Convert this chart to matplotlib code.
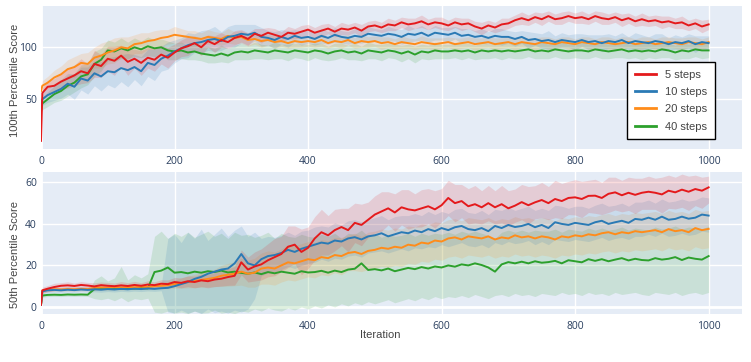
from __future__ import annotations

from typing import Any

import matplotlib

matplotlib.use("Agg")
import matplotlib.pyplot as plt
from matplotlib.lines import Line2D


FIG_SIZE = (7.51, 3.62)
BG = "#E5ECF6"
TICK_COLOR = "#2A3F5F"
TITLE_COLOR = "#444444"

COLORS = {
    "5": "#E41A1C",
    "10": "#2A7AB5",
    "20": "#FF8C1A",
    "40": "#2CA02C",
}
LABELS = ["5 steps", "10 steps", "20 steps", "40 steps"]
X_TICKS = [0, 200, 400, 600, 800, 1000]

# iteration grid: 0, 2, then every 10 iterations
ITERATIONS = [0, 2] + list(range(10, 1001, 10))

# ---- 100th percentile score (top) ----
TOP_5_MEAN = [
    10, 56,
    62, 63, 67, 70, 73, 77, 75, 84, 82, 89,
    87, 92, 86, 89, 85, 90, 88, 93, 90, 95,
    99, 101, 104, 100, 106, 103, 107, 105, 109, 111,
    108, 113, 111, 114, 112, 110, 114, 113, 115, 117,
    114, 116, 118, 115, 118, 117, 119, 116, 120, 121,
    119, 122, 121, 124, 122, 123, 125, 122, 124, 123,
    121, 124, 122, 123, 120, 118, 121, 119, 122, 123,
    126, 128, 126, 129, 127, 130, 127, 128, 130, 128,
    129, 127, 130, 128, 127, 129, 126, 128, 125, 127,
    125, 126, 124, 125, 123, 124, 121, 123, 120, 122,
]
TOP_5_SPREAD = [
    2, 5,
    6, 7, 8, 9, 10, 12, 9, 13, 11, 12,
    14, 10, 13, 9, 12, 10, 11, 9, 10, 8,
    8, 9, 7, 8, 6, 8, 7, 6, 7, 6,
    6, 5, 7, 5, 6, 5, 6, 5, 6, 5,
    5, 6, 5, 5, 6, 5, 5, 6, 5, 5,
    5, 6, 5, 5, 6, 5, 6, 5, 5, 6,
    5, 5, 6, 5, 5, 6, 5, 5, 6, 5,
    5, 6, 5, 5, 6, 5, 5, 6, 5, 5,
    6, 5, 5, 6, 5, 5, 6, 5, 5, 6,
    5, 5, 6, 5, 5, 6, 5, 5, 6, 5,
]
TOP_10_MEAN = [
    44, 50,
    54, 57, 60, 65, 62, 70, 68, 75, 72, 77,
    76, 80, 78, 81, 77, 85, 83, 89, 92, 96,
    99, 102, 104, 105, 107, 108, 106, 110, 111, 113,
    112, 114, 110, 109, 107, 110, 108, 111, 109, 110,
    108, 111, 109, 112, 110, 109, 111, 110, 113, 112,
    111, 113, 112, 110, 113, 112, 114, 111, 114, 113,
    112, 114, 111, 112, 110, 111, 109, 111, 110, 110,
    108, 110, 107, 108, 106, 107, 105, 107, 106, 105,
    107, 105, 106, 104, 106, 105, 107, 104, 106, 105,
    104, 106, 105, 103, 105, 104, 106, 103, 105, 104,
]
TOP_10_SPREAD = [
    3, 6,
    7, 8, 9, 10, 12, 11, 13, 12, 14, 13,
    15, 13, 16, 12, 14, 13, 15, 12, 13, 11,
    10, 12, 9, 11, 10, 12, 9, 10, 11, 9,
    10, 8, 9, 7, 8, 7, 8, 6, 7, 6,
    6, 7, 6, 7, 6, 6, 7, 6, 7, 6,
    6, 7, 6, 7, 8, 6, 7, 6, 7, 6,
    7, 6, 7, 6, 6, 7, 6, 7, 8, 6,
    7, 6, 8, 6, 7, 9, 6, 7, 6, 8,
    6, 7, 6, 8, 7, 6, 7, 6, 8, 7,
    6, 7, 8, 6, 7, 6, 7, 8, 6, 7,
]
TOP_20_MEAN = [
    58, 63,
    66, 71, 74, 79, 81, 85, 84, 90, 92, 95,
    97, 100, 99, 103, 104, 106, 107, 109, 110, 112,
    111, 110, 109, 108, 110, 109, 108, 111, 109, 110,
    107, 108, 106, 107, 105, 106, 104, 106, 105, 106,
    105, 107, 104, 106, 105, 107, 104, 106, 105, 106,
    104, 105, 103, 105, 104, 103, 105, 104, 103, 104,
    105, 103, 104, 105, 103, 104, 105, 103, 104, 105,
    103, 105, 104, 103, 105, 104, 103, 105, 104, 103,
    105, 104, 103, 105, 104, 103, 104, 105, 103, 104,
    105, 103, 104, 105, 104, 103, 105, 104, 103, 105,
]
TOP_20_SPREAD = [
    3, 5,
    6, 7, 8, 9, 10, 9, 11, 10, 12, 11,
    12, 10, 11, 9, 10, 8, 9, 8, 7, 8,
    7, 6, 7, 6, 7, 6, 6, 7, 6, 6,
    6, 5, 6, 5, 6, 5, 5, 6, 5, 5,
    5, 6, 5, 5, 6, 5, 5, 6, 5, 5,
    6, 5, 5, 6, 5, 5, 6, 5, 6, 5,
    5, 6, 5, 5, 6, 5, 5, 6, 5, 5,
    6, 5, 5, 6, 5, 6, 5, 5, 6, 5,
    5, 6, 5, 5, 6, 5, 6, 5, 5, 6,
    5, 5, 6, 5, 5, 6, 5, 6, 5, 5,
]
TOP_40_MEAN = [
    38, 46,
    50, 55, 58, 63, 66, 72, 74, 84, 88, 97,
    96, 99, 97, 100, 98, 101, 99, 100, 97, 96,
    97, 95, 96, 94, 93, 92, 94, 92, 95, 96,
    95, 97, 96, 95, 97, 96, 95, 97, 96, 95,
    97, 96, 94, 96, 97, 95, 96, 94, 97, 96,
    95, 97, 96, 94, 96, 93, 96, 95, 97, 96,
    96, 97, 96, 97, 95, 97, 96, 97, 96, 97,
    96, 97, 98, 96, 97, 96, 98, 97, 96, 97,
    97, 96, 98, 97, 96, 97, 98, 96, 97, 96,
    97, 96, 98, 97, 95, 97, 96, 98, 97, 97,
]
TOP_40_SPREAD = [
    3, 6,
    7, 8, 9, 10, 9, 11, 10, 12, 11, 10,
    9, 10, 8, 9, 8, 9, 8, 8, 9, 8,
    8, 7, 8, 7, 8, 7, 8, 7, 7, 8,
    7, 8, 7, 7, 8, 7, 8, 7, 7, 8,
    7, 8, 7, 8, 7, 7, 8, 7, 8, 7,
    8, 7, 7, 8, 7, 8, 7, 7, 8, 7,
    7, 7, 8, 7, 7, 8, 7, 7, 8, 7,
    7, 8, 7, 7, 8, 7, 7, 8, 7, 7,
    8, 7, 7, 8, 7, 7, 8, 7, 7, 8,
    7, 7, 8, 7, 7, 8, 7, 7, 8, 7,
]

# ---- 50th percentile score (bottom) ----
BOTTOM_5_MEAN = [
    1, 8,
    8.8, 9.6, 10.2, 10.4, 10.1, 10.6, 10.3, 9.9, 10.5, 10.2,
    10.0, 10.4, 10.1, 10.6, 10.2, 10.8, 10.5, 11.2, 11.0, 12.0,
    11.6, 12.4, 12.0, 12.8, 12.4, 13.2, 13.6, 14.4, 15.0, 21.5,
    18.0, 19.5, 20.5, 22.5, 24.0, 25.5, 29.0, 30.0, 26.5, 28.5,
    33.0, 36.0, 34.5, 37.0, 38.5, 37.0, 40.5, 39.5, 42.0, 44.5,
    46.0, 47.5, 45.5, 48.0, 47.0, 46.5, 47.5, 48.5, 47.0, 49.0,
    52.5, 50.0, 51.0, 48.5, 49.5, 48.0, 50.0, 48.0, 49.5, 47.5,
    48.8, 50.5, 49.0, 50.4, 51.5, 50.0, 52.0, 51.0, 52.5, 52.8,
    52.0, 53.5, 53.6, 52.5, 54.5, 55.2, 53.8, 55.0, 54.0, 55.0,
    55.5, 55.0, 54.2, 56.0, 55.2, 56.5, 55.5, 56.8, 56.0, 57.6,
]
BOTTOM_5_LOW = [
    0.5, 6.5,
    7.3, 7.8, 8.7, 8.7, 8.7, 9.0, 8.8, 8.2, 9.0, 8.6,
    8.5, 8.6, 8.5, 8.9, 8.7, 9.0, 8.9, 9.3, 9.0, 9.8,
    9.2, 9.8, 9.2, 9.8, 9.2, 9.8, 10.0, 10.4, 10.5, 15.5,
    12.0, 12.5, 13.0, 14.5, 15.0, 17.0, 19.0, 21.0, 15.5, 18.5,
    22.5, 25.0, 25.0, 27.0, 29.5, 26.5, 31.0, 29.5, 33.5, 35.5,
    36.5, 39.5, 36.5, 39.5, 37.5, 38.5, 38.5, 40.0, 38.0, 41.0,
    44.0, 41.0, 43.0, 40.0, 40.5, 40.0, 41.5, 40.0, 40.5, 39.0,
    40.8, 42.0, 40.0, 42.4, 43.0, 42.0, 43.0, 42.5, 44.5, 44.3,
    43.0, 45.5, 45.1, 44.5, 45.5, 46.7, 45.8, 46.5, 45.0, 47.0,
    47.0, 47.0, 45.2, 47.5, 47.2, 48.0, 46.5, 48.8, 47.5, 50.1,
]
BOTTOM_5_HIGH = [
    1.5, 9.5,
    10.3, 11.4, 11.7, 12.1, 11.5, 12.2, 11.8, 11.6, 12.0, 11.8,
    11.5, 12.2, 11.7, 12.3, 11.7, 12.6, 12.1, 13.1, 13.0, 14.2,
    14.0, 15.0, 14.8, 15.8, 15.6, 16.6, 17.2, 18.4, 19.5, 27.5,
    24.0, 26.5, 28.0, 30.5, 33.0, 34.0, 39.0, 39.0, 37.5, 38.5,
    43.5, 47.0, 44.0, 47.0, 47.5, 47.5, 50.0, 49.5, 50.5, 53.5,
    55.5, 55.5, 54.5, 56.5, 56.5, 54.5, 56.5, 57.0, 56.0, 57.0,
    61.0, 59.0, 59.0, 57.0, 58.5, 56.0, 58.5, 56.0, 58.5, 56.0,
    56.8, 59.0, 58.0, 58.4, 60.0, 58.0, 61.0, 59.5, 60.5, 61.3,
    60.5, 61.0, 61.5, 60.0, 62.5, 62.5, 61.0, 62.5, 62.0, 62.0,
    63.0, 62.0, 62.5, 63.5, 62.5, 64.0, 63.0, 63.5, 62.5, 63.0,
]
BOTTOM_10_MEAN = [
    1, 7.5,
    8.0, 8.2, 8.0, 8.3, 8.1, 8.4, 8.2, 8.5, 8.3, 8.6,
    8.4, 8.7, 8.5, 8.8, 8.6, 8.9, 8.7, 9.0, 9.2, 10.0,
    11.0, 12.0, 13.5, 14.5, 16.0, 17.0, 18.0, 18.5, 21.0, 25.5,
    21.0, 20.0, 23.0, 24.5, 25.0, 26.0, 27.5, 26.5, 28.0, 29.0,
    30.0, 31.0, 30.5, 32.0, 31.5, 33.0, 33.6, 32.5, 34.0, 34.5,
    35.5, 34.0, 35.0, 36.0, 35.5, 36.8, 36.0, 37.5, 36.5, 38.0,
    37.0, 38.4, 39.0, 37.5, 37.0, 38.0, 36.5, 39.0, 38.0, 39.5,
    38.5, 39.0, 40.0, 38.4, 39.5, 38.0, 40.8, 40.0, 39.5, 40.5,
    40.0, 39.5, 40.8, 41.5, 40.0, 40.8, 41.5, 40.5, 42.4, 42.0,
    43.0, 42.0, 43.5, 42.0, 42.4, 43.5, 42.5, 43.0, 44.5, 44.0,
]
BOTTOM_10_LOW = [
    0.5, 6.3,
    6.8, 7.0, 6.8, 7.1, 6.9, 7.2, 7.0, 7.3, 7.1, 7.4,
    7.2, 7.5, 7.3, 7.6, 7.4, 7.7, 7.5, 7.8, -2.5, -3.0,
    -1.5, -3.0, -2.0, -3.2, -1.0, -2.8, -2.0, -3.0, -1.5, -2.5,
    -1.0, 4.0, 15.0, 16.5, 17.0, 18.0, 19.5, 18.5, 20.0, 21.0,
    21.5, 23.0, 22.0, 23.5, 23.0, 24.5, 25.0, 24.0, 26.0, 26.5,
    27.0, 26.0, 27.0, 28.0, 27.0, 28.5, 28.0, 29.0, 28.5, 30.0,
    29.0, 30.0, 31.0, 29.5, 29.0, 30.0, 28.5, 31.0, 30.0, 31.5,
    30.5, 31.0, 32.0, 30.0, 31.5, 30.0, 32.5, 32.0, 31.5, 32.5,
    32.0, 31.5, 32.5, 33.5, 32.0, 33.0, 33.5, 32.5, 34.0, 34.0,
    35.0, 34.0, 35.5, 34.0, 34.5, 35.5, 34.5, 35.0, 36.5, 36.0,
]
BOTTOM_10_HIGH = [
    1.5, 8.7,
    9.3, 9.5, 9.3, 9.6, 9.4, 9.7, 9.5, 9.8, 9.6, 9.9,
    9.7, 10.0, 9.8, 10.1, 9.9, 10.2, 10.0, 10.3, 33.0, 35.0,
    31.0, 36.0, 33.0, 37.5, 32.0, 35.0, 38.0, 34.0, 37.0, 39.0,
    34.0, 36.0, 33.0, 34.0, 33.5, 34.5, 36.0, 34.5, 36.5, 37.0,
    38.5, 39.0, 38.5, 40.5, 39.5, 41.5, 42.0, 41.0, 42.0, 43.0,
    44.0, 42.0, 43.5, 44.0, 44.0, 45.0, 44.0, 46.0, 44.5, 46.0,
    45.0, 47.0, 47.5, 45.5, 45.0, 46.5, 44.5, 47.0, 46.5, 48.0,
    46.5, 47.5, 48.5, 46.5, 47.5, 46.5, 49.0, 48.5, 47.5, 48.5,
    48.5, 47.5, 49.0, 50.0, 48.5, 49.0, 50.0, 48.5, 50.5, 50.5,
    51.5, 50.0, 52.0, 50.5, 51.0, 52.0, 51.0, 51.5, 53.0, 52.5,
]
BOTTOM_20_MEAN = [
    1, 7.8,
    8.3, 8.5, 8.4, 8.6, 8.5, 8.7, 8.6, 9.2, 9.4, 9.3,
    9.5, 9.4, 9.6, 9.5, 9.8, 9.6, 10.0, 10.2, 10.5, 11.0,
    11.5, 12.0, 12.5, 13.0, 13.5, 14.0, 15.0, 15.5, 16.0, 17.0,
    16.0, 16.5, 18.5, 19.0, 18.5, 20.0, 21.5, 21.0, 22.0, 23.0,
    22.5, 24.0, 23.5, 25.0, 24.5, 26.0, 26.5, 25.5, 27.0, 27.5,
    28.5, 28.0, 29.0, 28.5, 30.0, 29.5, 31.0, 30.5, 32.0, 31.5,
    33.0, 33.5, 32.5, 34.0, 33.5, 33.0, 34.0, 32.5, 33.5, 33.0,
    34.5, 33.5, 34.0, 33.0, 34.0, 33.5, 32.5, 34.0, 33.5, 34.5,
    34.0, 35.0, 34.5, 35.5, 36.0, 35.0, 36.0, 35.5, 36.5, 36.0,
    36.5, 37.0, 36.0, 37.5, 36.5, 37.0, 36.0, 38.0, 37.0, 37.6,
]
BOTTOM_20_LOW = [
    0.5, 6.8,
    7.3, 7.5, 7.4, 7.6, 7.5, 7.7, 7.6, 8.0, 8.2, 8.1,
    8.3, 8.2, 8.4, 8.3, 8.5, 8.3, 8.6, 8.7, 8.8, 9.0,
    9.0, 9.2, 9.3, 9.5, 9.6, 9.8, 10.0, 10.0, 10.2, 10.5,
    9.5, 9.5, 11.0, 11.0, 10.5, 12.0, 13.0, 12.5, 13.5, 14.5,
    14.0, 15.5, 15.0, 16.5, 15.5, 17.5, 17.5, 17.0, 18.0, 18.5,
    19.5, 19.0, 20.0, 19.5, 21.0, 20.5, 22.0, 21.5, 23.0, 22.5,
    24.0, 24.5, 23.5, 25.0, 24.5, 24.0, 25.0, 23.5, 24.5, 24.0,
    25.5, 24.5, 25.0, 24.0, 25.0, 24.5, 23.5, 25.0, 24.5, 25.5,
    25.0, 26.0, 25.5, 26.5, 27.0, 26.0, 27.0, 26.5, 27.5, 27.0,
    27.5, 28.0, 27.0, 28.5, 27.5, 28.0, 27.0, 29.0, 28.0, 28.5,
]
BOTTOM_20_HIGH = [
    1.5, 8.8,
    9.3, 9.5, 9.4, 9.6, 9.5, 9.7, 9.6, 10.4, 10.6, 10.5,
    10.7, 10.6, 10.8, 10.7, 11.1, 10.9, 11.4, 11.7, 12.2, 13.0,
    14.0, 14.8, 15.7, 16.5, 17.4, 18.2, 20.0, 21.0, 21.8, 23.5,
    22.5, 23.5, 26.0, 27.0, 26.5, 28.0, 30.0, 29.5, 30.5, 31.5,
    31.0, 32.5, 32.0, 33.5, 33.5, 34.5, 35.5, 34.0, 36.0, 36.5,
    37.5, 37.0, 38.0, 37.5, 39.0, 38.5, 40.0, 39.5, 41.0, 40.5,
    42.0, 42.5, 41.5, 43.0, 42.5, 42.0, 43.0, 41.5, 42.5, 42.0,
    43.5, 42.5, 43.0, 42.0, 43.0, 42.5, 41.5, 43.0, 42.5, 43.5,
    43.0, 44.0, 43.5, 44.5, 45.0, 44.0, 45.0, 44.5, 45.5, 45.0,
    45.5, 46.0, 45.0, 46.5, 45.5, 46.0, 45.0, 47.0, 46.0, 46.5,
]
BOTTOM_40_MEAN = [
    1, 5.5,
    5.8, 5.9, 5.8, 6.0, 5.9, 6.0, 5.9, 8.6, 8.8, 8.7,
    8.9, 8.7, 9.0, 8.8, 9.1, 8.9, 16.8, 17.5, 19.0, 16.5,
    16.8, 16.2, 17.0, 16.5, 17.2, 16.8, 17.5, 16.6, 17.0, 16.4,
    16.0, 16.6, 15.8, 16.8, 16.2, 17.0, 16.5, 16.0, 17.2, 16.6,
    16.8, 17.4, 16.5, 17.5, 16.8, 18.0, 18.4, 21.0, 17.8, 18.2,
    17.6, 18.5, 17.2, 18.0, 18.8, 18.2, 19.2, 18.5, 19.5, 19.0,
    20.0, 19.4, 20.5, 20.0, 21.0, 20.2, 19.0, 17.0, 20.5, 21.6,
    21.0, 21.8, 21.0, 22.0, 21.3, 21.6, 22.2, 21.0, 22.5, 22.0,
    21.5, 23.0, 22.2, 23.0, 22.0, 22.8, 23.5, 22.4, 23.2, 22.6,
    22.4, 23.5, 22.8, 23.2, 24.0, 22.6, 23.8, 23.2, 22.8, 24.5,
]
BOTTOM_40_LOW = [
    0.5, 4.7,
    5.0, 5.1, 5.0, 5.2, 5.1, 5.2, 5.1, 4.0, 3.5, 4.2,
    3.0, 4.5, 2.5, 4.0, 3.5, 4.2, -2.5, -3.0, -2.0, -3.0,
    -2.5, -3.2, -2.0, -3.0, -2.8, -1.5, -3.0, -2.5, -3.2, -2.0,
    -2.5, -1.0, -2.0, -0.5, -1.5, -2.0, -0.5, -1.5, 0.0, -1.0,
    0.5, -0.5, 1.0, 0.0, 1.5, 0.5, 2.0, 1.0, 2.5, 1.5,
    2.5, 3.5, 2.0, 3.0, 4.0, 3.0, 4.5, 3.5, 5.0, 4.0,
    5.0, 4.5, 5.5, 4.5, 6.0, 5.0, 4.0, 5.5, 6.0, 5.0,
    6.5, 5.5, 6.0, 5.0, 6.5, 6.0, 5.5, 7.0, 6.0, 6.5,
    5.5, 7.0, 6.0, 6.5, 5.5, 7.0, 6.0, 6.5, 7.0, 6.0,
    5.5, 7.0, 6.5, 6.0, 7.0, 5.5, 6.5, 7.0, 6.0, 7.0,
]
BOTTOM_40_HIGH = [
    1.5, 6.3,
    6.6, 6.7, 6.6, 6.8, 6.7, 6.8, 6.7, 13.0, 15.0, 12.5,
    14.0, 19.5, 13.0, 15.5, 14.0, 16.0, 34.0, 36.5, 33.0, 35.5,
    34.0, 36.0, 33.5, 35.0, 36.5, 34.0, 35.5, 33.0, 36.0, 34.5,
    35.0, 33.5, 34.5, 36.0, 33.0, 35.5, 34.0, 33.5, 35.0, 34.0,
    33.5, 35.0, 34.0, 35.5, 33.0, 35.5, 35.0, 37.0, 34.0, 35.5,
    33.5, 35.0, 34.0, 34.5, 35.5, 34.0, 35.5, 34.5, 35.5, 35.0,
    36.0, 35.0, 36.5, 35.5, 36.5, 35.5, 34.5, 33.0, 36.0, 37.0,
    36.0, 37.0, 36.0, 37.0, 36.5, 36.5, 37.5, 36.0, 37.5, 37.0,
    36.5, 38.0, 37.0, 38.0, 37.0, 37.5, 38.5, 37.0, 38.0, 37.5,
    37.0, 38.5, 37.5, 38.0, 39.0, 37.5, 38.5, 38.0, 37.5, 39.0,
]


def style_axes(ax: Any, ylim: tuple[float, float], yticks: list[int], ylabel: str) -> None:
    """Plotly-like look: blue-grey panel, white grid, no spines."""
    ax.set_facecolor(BG)
    for spine in ax.spines.values():
        spine.set_visible(False)
    ax.set_xlim(0, 1050)
    ax.set_ylim(*ylim)
    ax.set_xticks(X_TICKS)
    ax.set_yticks(yticks)
    ax.grid(True, color="white", linewidth=1.0)
    ax.set_axisbelow(True)
    ax.axvline(0, color="white", linewidth=2.0, zorder=0.6)
    if ylim[0] < 0:
        ax.axhline(0, color="white", linewidth=2.0, zorder=0.6)
    ax.tick_params(length=0, labelsize=7.5, labelcolor=TICK_COLOR)
    ax.tick_params(axis="x", pad=5)
    ax.tick_params(axis="y", pad=3)
    for lab in ax.get_xticklabels() + ax.get_yticklabels():
        lab.set_family("Open Sans")
    ax.set_ylabel(ylabel, fontsize=8, color=TITLE_COLOR)


def draw_series(ax: Any, means: list, lows: list, highs: list) -> None:
    keys = ["40", "20", "10", "5"]
    for key, lo, hi in zip(keys, lows, highs):
        ax.fill_between(ITERATIONS, lo, hi, color=COLORS[key], alpha=0.15,
                        linewidth=0, zorder=1)
    for key, mean in zip(keys, means):
        ax.plot(ITERATIONS, mean, color=COLORS[key], linewidth=1.4, zorder=2)


plt.rcParams["font.family"] = ["Liberation Sans", "DejaVu Sans"]

fig = plt.figure(figsize=FIG_SIZE, dpi=100)
ax_top = fig.add_axes([41 / 751, 1 - 149 / 362, 701 / 751, 143 / 362])
ax_bot = fig.add_axes([41 / 751, 1 - 314 / 362, 701 / 751, 142 / 362])

top_means = [TOP_40_MEAN, TOP_20_MEAN, TOP_10_MEAN, TOP_5_MEAN]
top_spreads = [TOP_40_SPREAD, TOP_20_SPREAD, TOP_10_SPREAD, TOP_5_SPREAD]
top_lows = [[m - s for m, s in zip(mean, spr)] for mean, spr in zip(top_means, top_spreads)]
top_highs = [[m + s for m, s in zip(mean, spr)] for mean, spr in zip(top_means, top_spreads)]
draw_series(ax_top, top_means, top_lows, top_highs)

draw_series(
    ax_bot,
    [BOTTOM_40_MEAN, BOTTOM_20_MEAN, BOTTOM_10_MEAN, BOTTOM_5_MEAN],
    [BOTTOM_40_LOW, BOTTOM_20_LOW, BOTTOM_10_LOW, BOTTOM_5_LOW],
    [BOTTOM_40_HIGH, BOTTOM_20_HIGH, BOTTOM_10_HIGH, BOTTOM_5_HIGH],
)

style_axes(ax_top, (2.2, 139.7), [50, 100], "100th Percentile Score")
style_axes(ax_bot, (-3.4, 65), [0, 20, 40, 60], "50th Percentile Score")
ax_top.yaxis.set_label_coords(-0.030, 0.483)
ax_bot.yaxis.set_label_coords(-0.030, 0.42)
ax_bot.set_xlabel("Iteration", fontsize=8, color=TITLE_COLOR)
ax_bot.xaxis.set_label_coords((380 - 41) / 701, -0.113)

handles = [Line2D([], [], color=COLORS[k], linewidth=2) for k in ["5", "10", "20", "40"]]
leg = ax_top.legend(
    handles, LABELS, loc="upper left", bbox_to_anchor=(0.836, 0.608),
    fontsize=8, frameon=True, fancybox=False, framealpha=1,
    borderpad=0.7, handlelength=1.9, handletextpad=0.8, labelspacing=0.65,
    borderaxespad=0,
)
leg.get_frame().set_edgecolor("black")
leg.get_frame().set_linewidth(1.0)
for txt in leg.get_texts():
    txt.set_color(TITLE_COLOR)

fig.savefig("out.png", dpi=100, facecolor="white")
